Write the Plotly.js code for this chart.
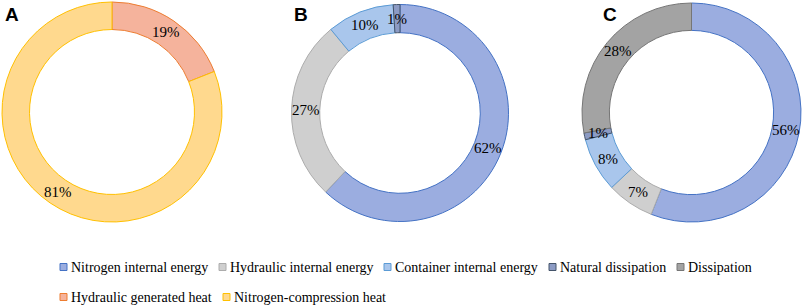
<!DOCTYPE html>
<html>
<head>
<meta charset="utf-8">
<script src="https://cdn.plot.ly/plotly-3.0.1.min.js"></script>
<style>html,body{margin:0;padding:0;background:#fff;} #chart{width:803px;height:306px;}</style>
</head>
<body>
<div id="chart"></div>
<script>
// ---- Data ----
const categoriesA = ['Hydraulic generated heat', 'Nitrogen-compression heat'];
const valuesA = [19, 81];

const categoriesB = ['Nitrogen internal energy', 'Hydraulic internal energy', 'Container internal energy', 'Natural dissipation'];
const valuesB = [62, 27, 10, 1];

const categoriesC = ['Nitrogen internal energy', 'Hydraulic internal energy', 'Container internal energy', 'Natural dissipation', 'Dissipation'];
const valuesC = [56, 7, 8, 1, 28];

const panelLabels = ['A', 'B', 'C'];

const legendRow1 = ['Nitrogen internal energy', 'Hydraulic internal energy', 'Container internal energy', 'Natural dissipation', 'Dissipation'];
const legendRow2 = ['Hydraulic generated heat', 'Nitrogen-compression heat'];

// ---- Styles ----
const fillColors = {
  'Nitrogen internal energy': '#9bade0',
  'Hydraulic internal energy': '#cfcfcf',
  'Container internal energy': '#a9c6ec',
  'Natural dissipation': '#8c9bc4',
  'Dissipation': '#a3a3a3',
  'Hydraulic generated heat': '#f5b39c',
  'Nitrogen-compression heat': '#ffd98e'
};
const lineColors = {
  'Nitrogen internal energy': '#4472c4',
  'Hydraulic internal energy': '#acacac',
  'Container internal energy': '#5b9bd5',
  'Natural dissipation': '#44546a',
  'Dissipation': '#767676',
  'Hydraulic generated heat': '#ed7d31',
  'Nitrogen-compression heat': '#ffc000'
};

const W = 803, H = 306;
const px = x => x / W;
const py = y => 1 - y / H;
const serif = 'Liberation Serif, Times New Roman, serif';

const annotations = [];
const shapes = [];

function pieTrace(labels, values, x0, x1, y0, y1, hole) {
  // value labels placed at the middle of each ring segment (horizontal text)
  const cx = (x0 + x1) / 2, cy = (y0 + y1) / 2;
  const r = Math.min(x1 - x0, y1 - y0) / 2;
  const rMid = r * (1 + hole) / 2;
  const total = values.reduce((a, b) => a + b, 0);
  let cum = 0;
  values.forEach(v => {
    const mid = (cum + v / 2) / total * 2 * Math.PI;
    cum += v;
    annotations.push({
      xref: 'paper', yref: 'paper',
      x: px(cx + rMid * Math.sin(mid)), y: py(cy - rMid * Math.cos(mid)),
      xanchor: 'center', yanchor: 'middle', showarrow: false,
      text: v + '%',
      font: {family: serif, size: 15, color: '#000'}
    });
  });
  return {
    type: 'pie',
    labels: labels,
    values: values,
    sort: false,
    direction: 'clockwise',
    rotation: 0,
    hole: hole,
    domain: {x: [px(x0), px(x1)], y: [py(y1), py(y0)]},
    marker: {
      colors: labels.map(l => fillColors[l]),
      line: {color: labels.map(l => lineColors[l]), width: 1}
    },
    textinfo: 'none',
    showlegend: false,
    hoverinfo: 'label+value'
  };
}

const data = [
  pieTrace(categoriesA, valuesA, 2, 222, 2, 222, 0.75),
  pieTrace(categoriesB, valuesB, 291.5, 508.5, 4.5, 221.5, 0.74),
  pieTrace(categoriesC, valuesC, 582, 801, 3, 222, 0.75)
];

// Legend (custom, two rows)
const row1X = [60, 219, 384, 549, 677];
const row2X = [60, 223];
const row1Y = 267, row2Y = 297;
function addLegend(items, xs, y) {
  items.forEach((lab, i) => {
    shapes.push({
      type: 'rect', xref: 'paper', yref: 'paper',
      x0: px(xs[i]), x1: px(xs[i] + 7), y0: py(y + 3.5), y1: py(y - 3.5),
      fillcolor: fillColors[lab], line: {color: lineColors[lab], width: 1}
    });
    annotations.push({
      xref: 'paper', yref: 'paper', x: px(xs[i] + 9), y: py(y),
      xanchor: 'left', yanchor: 'middle', showarrow: false,
      text: lab,
      font: {family: serif, size: 14, color: '#000'}
    });
  });
}
addLegend(legendRow1, row1X, row1Y);
addLegend(legendRow2, row2X, row2Y);

// Panel letters
const letterX = [3, 292, 601];
panelLabels.forEach((t, i) => {
  annotations.push({
    xref: 'paper', yref: 'paper', x: px(letterX[i]), y: py(2),
    xanchor: 'left', yanchor: 'top', showarrow: false,
    text: '<b>' + t + '</b>',
    font: {family: 'Liberation Sans, Arial, sans-serif', size: 19, color: '#000'}
  });
});

const layout = {
  width: W, height: H,
  margin: {l: 0, r: 0, t: 0, b: 0},
  paper_bgcolor: '#ffffff',
  showlegend: false,
  shapes: shapes,
  annotations: annotations
};

Plotly.newPlot('chart', data, layout, {displayModeBar: false, staticPlot: true});
</script>
</body>
</html>
